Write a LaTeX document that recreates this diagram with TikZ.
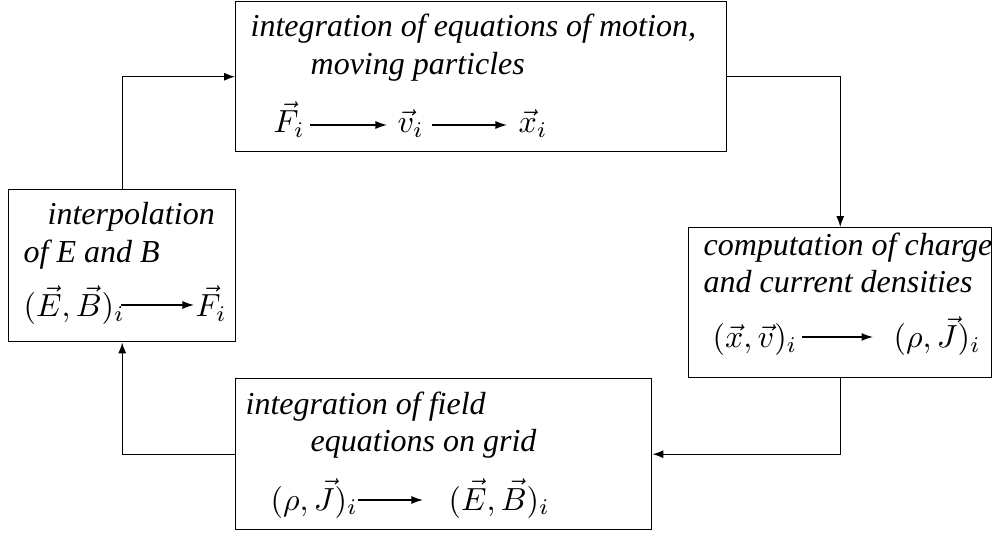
\documentclass[tikz,border=0pt]{standalone}
\usepackage[no-math]{fontspec}
\setmainfont{Liberation Serif}
\usetikzlibrary{arrows.meta}
\newcommand{\pxlen}{0.3125pt}
\begin{document}
\begin{tikzpicture}[x=0.3125pt,y=0.3125pt,
  box/.style={draw,line width=0.45pt,rectangle,inner sep=0,anchor=north west},
  txt/.style={inner sep=0,anchor=base west,font=\fontsize{10}{12}\selectfont\itshape},
  mth/.style={inner sep=0,anchor=base west,font=\fontsize{10}{12}\selectfont},
  flow/.style={line width=0.42pt,-{Latex[length=3.4pt,width=2.5pt]}},
  inner/.style={line width=0.4pt,-{Latex[length=3.6pt,width=2.5pt]}}]
\useasboundingbox (0,0) rectangle (994,-536);
% boxes
\node[box,minimum width=491*\pxlen,minimum height=150*\pxlen] (top) at (235,-1) {};
\node[box,minimum width=227*\pxlen,minimum height=152*\pxlen] (left) at (8,-189) {};
\node[box,minimum width=303*\pxlen,minimum height=150*\pxlen] (right) at (688,-227) {};
\node[box,minimum width=416*\pxlen,minimum height=151*\pxlen] (bottom) at (235,-378) {};
% top box text
\node[txt] (t1) at (250,-37) {integration of equations of motion,};
\node[txt] (t2) at (310,-75) {moving particles};
\node[mth] (tF) at (273,-133) {$\vec F_i$};
\node[mth] (tv) at (397,-133) {$\vec v_i$};
\node[mth] (tx) at (518,-133) {$\vec x_i$};
\draw[inner] (310,-125) coordinate (a1) -- (387,-125) coordinate (a2);
\draw[inner] (432,-125) coordinate (a3) -- (507,-125) coordinate (a4);
% left box text
\node[txt] (l1) at (47,-225) {interpolation};
\node[txt] (l2) at (23,-263) {of E and B};
\node[mth] (lEB) at (23,-317) {$(\vec E,\vec B)_i$};
\node[mth] (lF) at (195,-317) {$\vec F_i$};
\draw[inner] (121,-305) coordinate (b1) -- (194,-305) coordinate (b2);
% right box text
\node[txt] (r1) at (703,-256) {computation of charge};
\node[txt] (r2) at (703,-293) {and current densities};
\node[mth] (rxv) at (712,-348) {$(\vec x,\vec v)_i$};
\node[mth] (rrJ) at (893,-348) {$(\rho,\vec J)_i$};
\draw[inner] (802,-337) coordinate (c1) -- (873,-337) coordinate (c2);
% bottom box text
\node[txt] (d1) at (245,-415) {integration of field};
\node[txt] (d2) at (310,-452) {equations on grid};
\node[mth] (drJ) at (270,-510) {$(\rho,\vec J)_i$};
\node[mth] (dEB) at (448,-510) {$(\vec E,\vec B)_i$};
\draw[inner] (358,-500) coordinate (e1) -- (423,-500) coordinate (e2);
% connectors
\draw[flow] (top.east) -| (right.north);
\draw[flow] (right.south) |- (bottom.east);
\draw[flow] (bottom.west) -| (left.south);
\draw[flow] (left.north) |- (top.west);
\end{tikzpicture}
\end{document}
